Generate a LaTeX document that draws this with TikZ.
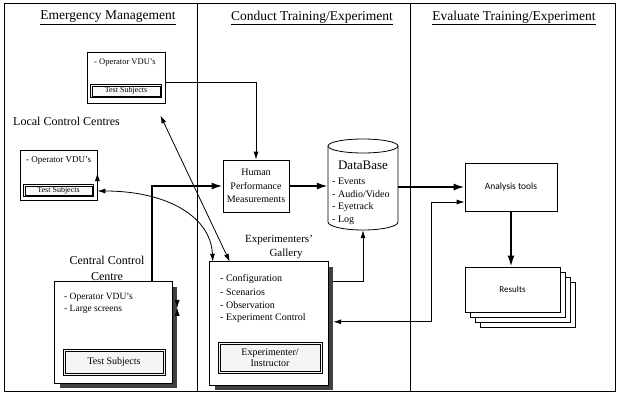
\documentclass[tikz,border=0pt]{standalone}
\usepackage{fontspec}
\setmainfont{Liberation Serif}
\newfontfamily\sansf{Carlito}
\usetikzlibrary{arrows.meta,calc}
\begin{document}
\begin{tikzpicture}[x=1pt,y=-1pt,
  box/.style={draw,line width=0.8pt,fill=white,inner sep=0pt},
  dbox/.style={draw,line width=0.6pt,inner sep=0pt},
  inline/.style={line width=0.5pt},
  tarrow/.style={line width=0.8pt,-{Latex[length=8pt,width=5pt]}},
  tboth/.style={line width=0.8pt,{Latex[length=8pt,width=5pt]}-{Latex[length=8pt,width=5pt]}},
  karrow/.style={line width=1.8pt,-{Latex[length=11pt,width=7pt]}},
  shadowfill/.style={fill=black!75},
  frame/.style={line width=0.8pt},
  head/.style={font=\fontsize{13.5}{15}\selectfont},
  lbl/.style={font=\fontsize{12}{16}\selectfont,align=center,inner sep=0pt},
  itm/.style={anchor=west,inner sep=0pt,font=\fontsize{#1}{12}\selectfont},
  itm/.default=10
]
\useasboundingbox (0,0) rectangle (617,393);
\fill[white] (0,0) rectangle (617,393);
% frame and columns
\draw[frame] (4,3) rectangle (615,391);
\draw[frame] (197,3) -- (197,391);
\draw[frame] (410,3) -- (410,391);
\node[head] (h1) at (108,18) {\underline{Emergency Management}};
\node[head] (h2) at (312,18) {\underline{Conduct Training/Experiment}};
\node[head] (h3) at (514,18) {\underline{Evaluate Training/Experiment}};

% Emergency management box
\node[box,minimum width=78pt,minimum height=51pt] (em) at (126,77.5) {};
\node[itm=8.5] (emt) at (94,63) {- Operator VDU's};
\node[dbox,fill=gray!5,minimum width=71pt,minimum height=13pt,font=\fontsize{8}{9}\selectfont] (ets) at (126,91) {Test Subjects};
\draw[inline] ($(ets.north west)+(1.8,1.8)$) rectangle ($(ets.south east)+(-1.8,-1.8)$);

% Local control centres
\node[lbl,anchor=west] (lcclbl) at (13,121) {Local Control Centres};
\node[box,minimum width=77pt,minimum height=50pt] (lcc) at (58.5,175) {};
\node[itm=9] (lcct) at (26,160) {- Operator VDU's};
\node[dbox,fill=gray!5,minimum width=70pt,minimum height=12pt,font=\fontsize{8}{9}\selectfont] (lts) at (58.5,190.5) {Test Subjects};
\draw[inline] ($(lts.north west)+(1.8,1.8)$) rectangle ($(lts.south east)+(-1.8,-1.8)$);

% Central control centre
\node[lbl] (ccclbl) at (107,268) {Central Control\\Centre};
\node[inner sep=0pt,minimum width=117pt,minimum height=101pt] (ccc) at (113.5,332.5) {};
\fill[shadowfill] ($(ccc.north west)+(5,5)$) rectangle ($(ccc.south east)+(5,5)$);
\draw[box] (ccc.north west) rectangle (ccc.south east);
\node[itm=9.5] (ccct1) at (64,297) {- Operator VDU's};
\node[itm=9.5] (ccct2) at (64,309) {- Large screens};
\node[dbox,fill=gray!8,minimum width=102pt,minimum height=26pt,font=\fontsize{10}{12}\selectfont] (cts) at (114,362) {Test Subjects};
\draw[inline] ($(cts.north west)+(2.5,2.5)$) rectangle ($(cts.south east)+(-2.5,-2.5)$);

% Human performance measurements
\node[box,minimum width=66pt,minimum height=52pt,align=center,font=\fontsize{10}{13.5}\selectfont] (hpm) at (256,186) {Human\\Performance\\Measurements};

% Database cylinder
\draw[line width=0.8pt,fill=white] (328,146) -- (328,222) arc[start angle=180,end angle=360,x radius=35pt,y radius=8pt] -- (398,146);
\draw[line width=0.8pt,fill=white] (363,146) ellipse [x radius=35pt,y radius=7pt];
\node[minimum width=70pt,minimum height=91pt,inner sep=0pt] (db) at (363,184.5) {};
\node[font=\fontsize{13}{15}\selectfont,inner sep=0pt] (dbt) at (363,165) {DataBase};
\node[itm] (db1) at (332,181) {- Events};
\node[itm] (db2) at (332,194) {- Audio/Video};
\node[itm] (db3) at (332,207) {- Eyetrack};
\node[itm] (db4) at (332,220) {- Log};

% Experimenters' gallery
\node[font=\fontsize{11}{13}\selectfont,inner sep=0pt] (eglbl1) at (279,240) {Experimenters'};
\node[font=\fontsize{11}{13}\selectfont,inner sep=0pt] (eglbl2) at (286,254) {Gallery};
\node[inner sep=0pt,minimum width=118pt,minimum height=123pt] (eg) at (269,323.5) {};
\fill[shadowfill] ($(eg.north west)+(5,5)$) rectangle ($(eg.south east)+(5,5)$);
\draw[box] (eg.north west) rectangle (eg.south east);
\node[itm] (eg1) at (220,279) {- Configuration};
\node[itm] (eg2) at (220,292) {- Scenarios};
\node[itm] (eg3) at (220,305) {- Observation};
\node[itm] (eg4) at (220,318) {- Experiment Control};
\node[dbox,fill=gray!8,minimum width=104pt,minimum height=31pt,align=center,font=\fontsize{10}{11.5}\selectfont] (ei) at (270,357.5) {Experimenter/\\Instructor};
\draw[inline] ($(ei.north west)+(2.5,2.5)$) rectangle ($(ei.south east)+(-2.5,-2.5)$);

% Analysis tools and results
\node[box,minimum width=92pt,minimum height=48pt,font=\sansf\fontsize{9.5}{11}\selectfont] (at) at (511,187) {Analysis tools};
\draw[line width=0.8pt,fill=white] (480,282) rectangle (575,327);
\draw[line width=0.8pt,fill=white] (475,277) rectangle (570,322);
\draw[line width=0.8pt,fill=white] (470,272) rectangle (565,317);
\node[box,minimum width=95pt,minimum height=45pt,font=\sansf\fontsize{9}{11}\selectfont] (res) at (512.5,289.5) {Results};

% connectors
\draw[tarrow] ($(em.east)+(0,4.5)$) -| (hpm.north);
\draw[tarrow] ($(lcc.east)+(0,-2)$) -- ($(lcc.east)+(0,-2)$ -| hpm.west);
\draw[karrow] ($(ccc.north east)+(-20,0)$) |- (hpm.west);
\draw[tboth] ($(lcc.east)+(0,16)$) .. controls +(70,0) and +(-2,-45) .. ($(eg.north west)+(3,0)$);
\draw[tboth] ($(em.south east)+(-5,12)$) -- ($(eg.north west)+(20,0)$);
\draw[tboth] ($(ccc.north east)+(5,26)$) -- ($(ccc.north east)+(5,26)$ -| eg.west);
\draw[karrow] (hpm.east) -- (hpm.east -| db.west);
\draw[karrow] (db.east |- at.west) -- (at.west);
\draw[tarrow] ($(eg.north east)+(5,20)$) -| (db.south);
\draw[tboth] ($(at.west)+(0,15)$) -- ++(-33,0) |- ($(eg.north east)+(5,60)$);
\draw[karrow] (at.south) -- (at.south |- res.north);
\end{tikzpicture}
\end{document}
